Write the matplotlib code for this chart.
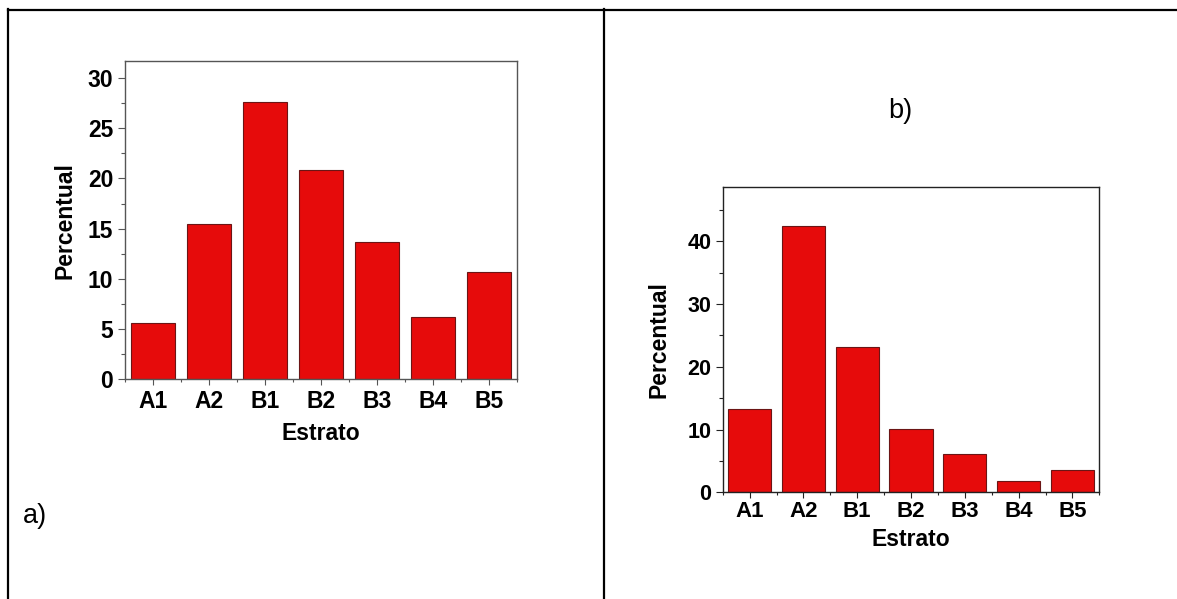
import matplotlib
matplotlib.use("Agg")
import matplotlib.pyplot as plt
from matplotlib.lines import Line2D
from matplotlib.ticker import MultipleLocator, FixedLocator

# dados
estratos = ["A1", "A2", "B1", "B2", "B3", "B4", "B5"]
perc_a = [5.6, 15.5, 27.6, 20.8, 13.7, 6.2, 10.7]
perc_b = [13.3, 42.4, 23.1, 10.1, 6.1, 1.8, 3.5]

plt.rcParams["font.family"] = ["Liberation Sans", "DejaVu Sans"]

W, H = 1177, 599
fig = plt.figure(figsize=(W / 100, H / 100), dpi=100)


def px_box(x0, y0, x1, y1):
    # pixel coords (origem no topo) -> fracao da figura
    return [x0 / W, 1 - y1 / H, (x1 - x0) / W, (y1 - y0) / H]


def hline(x0, x1, y, lw=1.5):
    fig.add_artist(Line2D([x0 / W, x1 / W], [1 - y / H, 1 - y / H],
                          transform=fig.transFigure, color="black", lw=lw))


def vline(x, y0, y1, lw=1.5):
    fig.add_artist(Line2D([x / W, x / W], [1 - y0 / H, 1 - y1 / H],
                          transform=fig.transFigure, color="black", lw=lw))


def barras(ax, vals, ymax, major, minor, spine_col, fs_y, fs_x, fs_lab, pad_y, pad_x, lp_y, lp_x):
    x = range(len(estratos))
    ax.bar(x, vals, width=0.8, color="#e60b0b", edgecolor="#6b1515", linewidth=0.8)
    ax.set_xlim(-0.5, 6.5)
    ax.set_ylim(0, ymax)
    ax.set_xticks(list(x))
    ax.set_xticklabels(estratos, fontsize=fs_x, fontweight="bold")
    ax.xaxis.set_minor_locator(FixedLocator([i + 0.5 for i in range(-1, 7)]))
    ax.yaxis.set_major_locator(MultipleLocator(major))
    ax.yaxis.set_minor_locator(MultipleLocator(minor))
    for lab in ax.get_yticklabels():
        lab.set_fontsize(fs_y)
        lab.set_fontweight("bold")
    for s in ax.spines.values():
        s.set_color(spine_col)
        s.set_linewidth(1.0)
    ax.tick_params(axis="y", which="major", length=5, width=0.8, color=spine_col, pad=pad_y)
    ax.tick_params(axis="y", which="minor", length=3, width=0.8, color=spine_col)
    ax.tick_params(axis="x", which="major", length=4.5, width=0.8, color=spine_col, pad=pad_x)
    ax.tick_params(axis="x", which="minor", length=2.5, width=0.8, color=spine_col)
    ax.set_ylabel("Percentual", fontsize=fs_lab, fontweight="bold", labelpad=lp_y)
    ax.set_xlabel("Estrato", fontsize=fs_lab, fontweight="bold", labelpad=lp_x)


ax1 = fig.add_axes(px_box(125, 61, 517, 379.3))
barras(ax1, perc_a, 31.7, 5, 2.5, "#555555", 16.5, 16.5, 16.5, 3.5, 3, 8, 7)

ax2 = fig.add_axes(px_box(722.7, 187.3, 1099.3, 492.3))
barras(ax2, perc_b, 48.6, 10, 5, "#222222", 15.5, 16, 16.5, 3, 2, 12, 4)

# linhas da tabela
hline(8, W, 10, lw=1.6)
vline(8, 9, H, lw=1.6)
vline(604, 9, H, lw=1.6)

fig.text(35 / W, 1 - 516 / H, "a)", fontsize=19.5, ha="center", va="center")
fig.text(900 / W, 1 - 111 / H, "b)", fontsize=19.5, ha="center", va="center")

fig.savefig("out.png", dpi=100)
